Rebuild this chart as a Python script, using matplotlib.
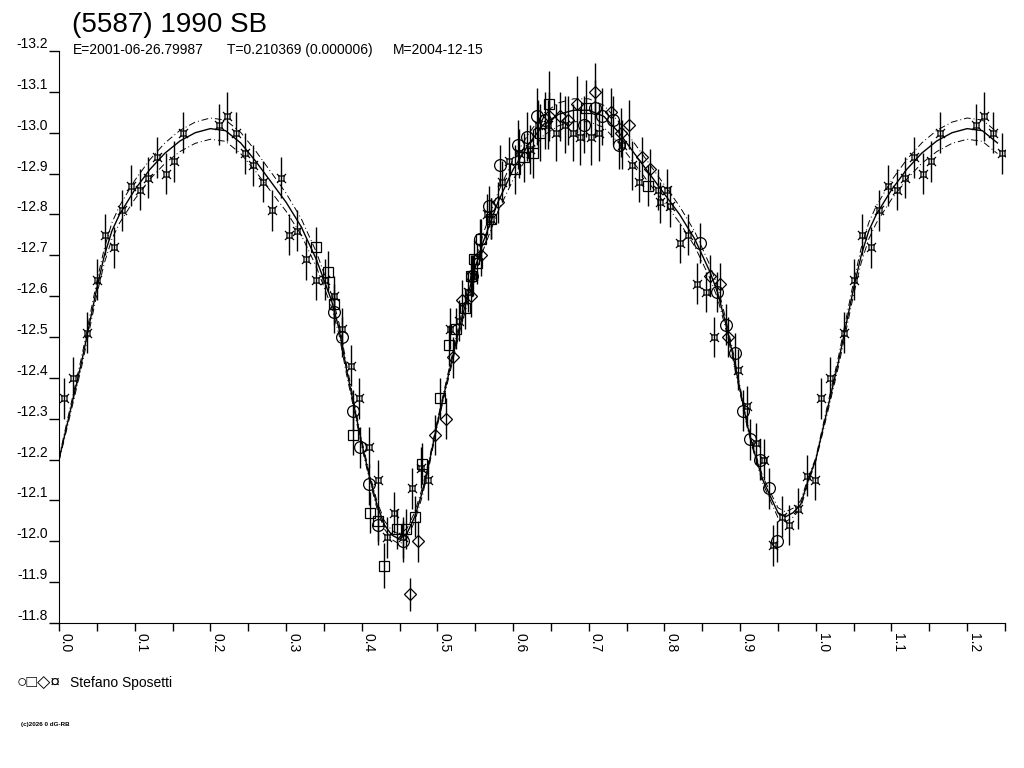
import numpy as np
import matplotlib
matplotlib.use("Agg")
import matplotlib.pyplot as plt
from matplotlib.path import Path
from matplotlib.ticker import MultipleLocator

plt.rcParams['font.family'] = ['Liberation Sans', 'DejaVu Sans']

# model lightcurve (phase, magnitude) and its band width
fit_phase = [0.00, 0.01, 0.02, 0.03, 0.04, 0.05, 0.06, 0.07, 0.08, 0.09, 0.10, 0.12, 0.14,
             0.16, 0.18, 0.20, 0.22, 0.24, 0.26, 0.28, 0.30, 0.32, 0.34, 0.36, 0.37, 0.38,
             0.39, 0.40, 0.41, 0.42, 0.43, 0.44, 0.45, 0.46, 0.47, 0.48, 0.49, 0.50, 0.51,
             0.52, 0.53, 0.54, 0.55, 0.56, 0.58, 0.60, 0.62, 0.64, 0.66, 0.68, 0.70, 0.72,
             0.74, 0.76, 0.78, 0.80, 0.82, 0.84, 0.86, 0.87, 0.88, 0.89, 0.90, 0.91, 0.92,
             0.93, 0.94, 0.95, 0.96, 0.97, 0.98, 0.99, 1.00]
fit_mag = [-12.20, -12.28, -12.36, -12.44, -12.53, -12.62, -12.70, -12.76, -12.80, -12.83,
           -12.86, -12.91, -12.95, -12.98, -13.00, -13.01, -13.005, -12.975, -12.93, -12.88,
           -12.83, -12.77, -12.69, -12.59, -12.52, -12.42, -12.33, -12.24, -12.16, -12.09,
           -12.04, -12.015, -12.005, -12.02, -12.06, -12.12, -12.20, -12.29, -12.37, -12.45,
           -12.53, -12.60, -12.67, -12.73, -12.83, -12.91, -12.97, -13.02, -13.045, -13.055,
           -13.055, -13.04, -13.00, -12.95, -12.90, -12.85, -12.80, -12.74, -12.66, -12.61,
           -12.54, -12.46, -12.37, -12.28, -12.21, -12.15, -12.11, -12.07, -12.06, -12.07,
           -12.09, -12.15, -12.20]
fit_band = [0.004, 0.008, 0.010, 0.012, 0.014, 0.016, 0.018, 0.020, 0.021, 0.022,
            0.023, 0.024, 0.025, 0.026, 0.026, 0.026, 0.026, 0.026, 0.025, 0.024,
            0.022, 0.020, 0.018, 0.016, 0.014, 0.012, 0.010, 0.008, 0.008, 0.009,
            0.010, 0.011, 0.012, 0.012, 0.011, 0.010, 0.008, 0.006, 0.008, 0.010,
            0.013, 0.016, 0.018, 0.020, 0.023, 0.025, 0.026, 0.027, 0.028, 0.028,
            0.028, 0.027, 0.026, 0.025, 0.024, 0.022, 0.020, 0.018, 0.016, 0.014,
            0.012, 0.010, 0.008, 0.006, 0.006, 0.008, 0.010, 0.012, 0.012, 0.011,
            0.009, 0.006, 0.004]

# observations (Stefano Sposetti), grouped by symbol
cross_phase = [0.007, 0.019, 0.037, 0.050, 0.061, 0.073, 0.083, 0.095, 0.107, 0.118, 0.130,
               0.142, 0.152, 0.164, 0.212, 0.222, 0.234, 0.246, 0.257, 0.269, 0.282, 0.294,
               0.304, 0.315, 0.327, 0.339, 0.351, 0.364, 0.374, 0.386, 0.397, 0.409, 0.421,
               0.434, 0.443, 0.454, 0.466, 0.478, 0.487, 0.516, 0.529, 0.540, 0.547, 0.565,
               0.571, 0.586, 0.595, 0.608, 0.622, 0.633, 0.646, 0.657, 0.668, 0.679, 0.689,
               0.703, 0.714, 0.744, 0.757, 0.767, 0.791, 0.794, 0.803, 0.808, 0.820, 0.831,
               0.843, 0.855, 0.865, 0.897, 0.909, 0.921, 0.931, 0.943, 0.955, 0.965, 0.976,
               0.988, 0.999]
cross_mag = [-12.35, -12.40, -12.51, -12.64, -12.75, -12.72, -12.81, -12.87, -12.86, -12.89,
             -12.94, -12.90, -12.93, -13.00, -13.02, -13.04, -13.00, -12.95, -12.92, -12.88,
             -12.81, -12.89, -12.75, -12.76, -12.69, -12.64, -12.64, -12.60, -12.52, -12.43,
             -12.35, -12.23, -12.15, -12.01, -12.07, -12.01, -12.13, -12.18, -12.15, -12.52,
             -12.54, -12.61, -12.65, -12.80, -12.79, -12.88, -12.93, -12.95, -12.96, -13.02,
             -13.02, -13.00, -13.02, -13.00, -12.99, -12.99, -13.00, -12.97, -12.92, -12.88,
             -12.86, -12.83, -12.86, -12.82, -12.73, -12.75, -12.63, -12.61, -12.50, -12.42,
             -12.33, -12.24, -12.20, -11.99, -12.06, -12.04, -12.08, -12.16, -12.15]
cross_err = [0.05, 0.05, 0.05, 0.05, 0.05, 0.05, 0.05, 0.05, 0.05, 0.05, 0.05, 0.05, 0.05,
             0.05, 0.05, 0.06, 0.05, 0.05, 0.05, 0.05, 0.05, 0.05, 0.05, 0.05, 0.05, 0.05,
             0.05, 0.05, 0.05, 0.05, 0.05, 0.05, 0.05, 0.05, 0.05, 0.05, 0.05, 0.05, 0.05,
             0.05, 0.05, 0.05, 0.05, 0.05, 0.05, 0.05, 0.06, 0.06, 0.06, 0.06, 0.06, 0.07,
             0.07, 0.07, 0.07, 0.07, 0.07, 0.06, 0.06, 0.05, 0.05, 0.05, 0.05, 0.05, 0.05,
             0.05, 0.05, 0.05, 0.05, 0.05, 0.05, 0.05, 0.05, 0.05, 0.05, 0.05, 0.05, 0.05,
             0.05]

circle_phase = [0.364, 0.374, 0.388, 0.398, 0.409, 0.421, 0.454, 0.546, 0.556, 0.568, 0.583,
                0.606, 0.618, 0.631, 0.642, 0.694, 0.708, 0.718, 0.732, 0.740, 0.847, 0.869,
                0.881, 0.893, 0.904, 0.913, 0.926, 0.938, 0.949]
circle_mag = [-12.56, -12.50, -12.32, -12.23, -12.14, -12.04, -12.00, -12.65, -12.74, -12.82,
              -12.92, -12.97, -12.99, -13.04, -13.03, -13.02, -13.06, -13.04, -13.03, -12.97,
              -12.73, -12.61, -12.53, -12.46, -12.32, -12.25, -12.20, -12.13, -12.00]
circle_err = [0.05, 0.05, 0.05, 0.05, 0.05, 0.05, 0.05, 0.05, 0.05, 0.05, 0.05, 0.06, 0.06,
              0.07, 0.07, 0.07, 0.07, 0.07, 0.06, 0.06, 0.05, 0.05, 0.05, 0.05, 0.05, 0.05,
              0.05, 0.05, 0.05]

square_phase = [0.340, 0.355, 0.364, 0.388, 0.411, 0.421, 0.430, 0.446, 0.458, 0.470, 0.480,
                0.503, 0.515, 0.525, 0.537, 0.545, 0.548, 0.552, 0.558, 0.571, 0.603, 0.615,
                0.626, 0.636, 0.648, 0.697, 0.778]
square_mag = [-12.72, -12.66, -12.58, -12.26, -12.07, -12.05, -11.94, -12.03, -12.03, -12.06,
              -12.19, -12.35, -12.48, -12.52, -12.57, -12.65, -12.69, -12.68, -12.74, -12.79,
              -12.91, -12.94, -12.95, -13.00, -13.07, -13.06, -12.87]
square_err = [0.05, 0.05, 0.05, 0.05, 0.05, 0.05, 0.055, 0.05, 0.05, 0.05, 0.05, 0.05, 0.05,
              0.05, 0.05, 0.05, 0.05, 0.05, 0.05, 0.05, 0.06, 0.06, 0.06, 0.07, 0.08, 0.07,
              0.05]

diamond_phase = [0.464, 0.475, 0.497, 0.511, 0.521, 0.533, 0.545, 0.558, 0.580, 0.648, 0.662,
                 0.672, 0.684, 0.708, 0.730, 0.742, 0.753, 0.770, 0.781, 0.860, 0.873, 0.884]
diamond_mag = [-11.87, -12.00, -12.26, -12.30, -12.45, -12.59, -12.60, -12.70, -12.83, -13.04,
               -13.04, -13.03, -13.07, -13.10, -13.05, -13.00, -13.02, -12.94, -12.91, -12.65,
               -12.63, -12.50]
diamond_err = [0.04, 0.05, 0.05, 0.05, 0.05, 0.05, 0.05, 0.05, 0.05, 0.06, 0.06, 0.06, 0.07,
               0.07, 0.06, 0.06, 0.06, 0.05, 0.05, 0.05, 0.05, 0.05]

x_ticks = [0.0, 0.1, 0.2, 0.3, 0.4, 0.5, 0.6, 0.7, 0.8, 0.9, 1.0, 1.1, 1.2]
y_ticks = [-13.2, -13.1, -13.0, -12.9, -12.8, -12.7, -12.6, -12.5, -12.4, -12.3, -12.2,
           -12.1, -12.0, -11.9, -11.8]

# "currency sign" marker: small box with corner spikes
cur_verts = [(-0.5, -0.5), (0.5, -0.5), (0.5, 0.5), (-0.5, 0.5), (-0.5, -0.5),
             (-0.5, -0.5), (-0.9, -0.9), (0.5, -0.5), (0.9, -0.9),
             (0.5, 0.5), (0.9, 0.9), (-0.5, 0.5), (-0.9, 0.9)]
cur_codes = [Path.MOVETO, Path.LINETO, Path.LINETO, Path.LINETO, Path.CLOSEPOLY,
             Path.MOVETO, Path.LINETO, Path.MOVETO, Path.LINETO,
             Path.MOVETO, Path.LINETO, Path.MOVETO, Path.LINETO]
cur_marker = Path(cur_verts, cur_codes)


def wrap(phase, values, extra=0.25):
    # the plot shows phases 0..1.25, so the start of the cycle is drawn twice
    p = np.asarray(phase)
    out = [np.asarray(v) for v in values]
    sel = p <= extra
    return [np.concatenate([p, p[sel] + 1.0])] + [np.concatenate([v, v[sel]]) for v in out]


fig = plt.figure(figsize=(10.24, 7.68), dpi=100)
ax = fig.add_axes([59 / 1024, 1 - 623 / 768, (1005 - 59) / 1024, (623 - 51) / 768])

fp, fm, fb = wrap(fit_phase[:-1], [fit_mag[:-1], fit_band[:-1]])
order = np.argsort(fp)
fp, fm, fb = fp[order], fm[order], fb[order]
ax.plot(fp, fm, color='black', lw=1.0, zorder=3)
ax.plot(fp, fm - fb, color='black', lw=0.7, ls=(0, (7, 3, 1, 3)), zorder=3)
ax.plot(fp, fm + fb, color='black', lw=0.7, ls=(0, (7, 3, 1, 3)), zorder=3)

series = [
    (cross_phase, cross_mag, cross_err, cur_marker, 6.5),
    (circle_phase, circle_mag, circle_err, 'o', 8.5),
    (square_phase, square_mag, square_err, 's', 7.0),
    (diamond_phase, diamond_mag, diamond_err, 'D', 6.5),
]
for ph, mg, er, mk, ms in series:
    p, m, e = wrap(ph, [mg, er])
    ax.errorbar(p, m, yerr=e, fmt='none', ecolor='black', elinewidth=1.0, capsize=0, zorder=2)
    ax.plot(p, m, ls='none', marker=mk, ms=ms, mfc='none', mec='black', mew=0.9, zorder=4)

ax.set_xlim(0, 1.25)
ax.set_ylim(-11.8, -13.2)
ax.spines['top'].set_visible(False)
ax.spines['right'].set_visible(False)
ax.set_facecolor('white')

ax.set_xticks(x_ticks)
ax.set_xticklabels(['%.1f' % t for t in x_ticks], rotation=270, ha='left', va='top',
                   fontsize=10)
ax.xaxis.set_minor_locator(MultipleLocator(0.05))
ax.tick_params(axis='x', which='both', direction='out', length=6, width=1, pad=1.5)

ax.set_yticks(y_ticks)
ax.set_yticklabels(['%.1f' % t for t in y_ticks], fontsize=10)
for lbl in ax.get_yticklabels():
    lbl.set_verticalalignment('bottom')
ax.tick_params(axis='y', direction='out', length=7, width=1, pad=1)

fig.text(72 / 1024, 1 - 32 / 768, '(5587) 1990 SB', fontsize=20, va='baseline')
fig.text(73 / 1024, 1 - 54 / 768, 'E=2001-06-26.79987', fontsize=10, va='baseline')
fig.text(227 / 1024, 1 - 54 / 768, 'T=0.210369 (0.000006)', fontsize=10, va='baseline')
fig.text(393 / 1024, 1 - 54 / 768, 'M=2004-12-15', fontsize=10, va='baseline')

fig.text(17 / 1024, 1 - 688 / 768, '\u25cb\u25a1\u25c7\u00a4', fontsize=12.5, va='baseline')
fig.text(70 / 1024, 1 - 687 / 768, 'Stefano Sposetti', fontsize=10, va='baseline')
fig.text(21 / 1024, 1 - 726 / 768, '(c)2026 0 dG-RB', fontsize=4.5, va='baseline',
         fontweight='bold')

fig.savefig('out.png', dpi=100, facecolor='white')
